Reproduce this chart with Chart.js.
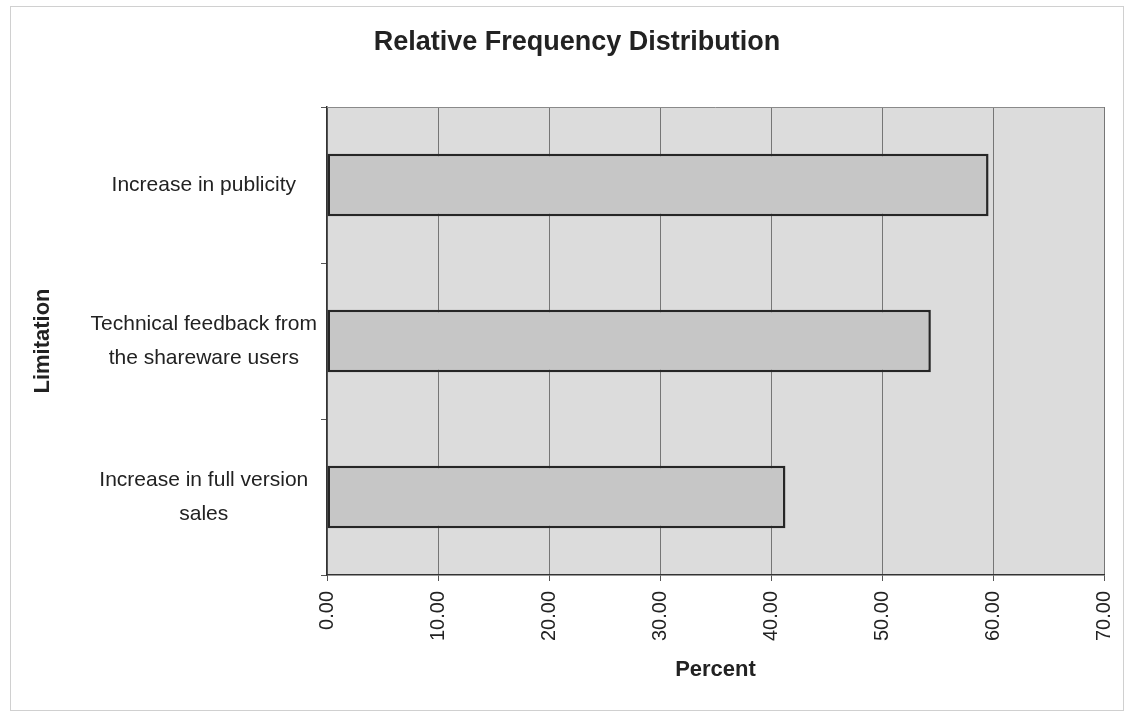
<!DOCTYPE html>
<html>
<head>
<meta charset="utf-8">
<script src="https://cdn.jsdelivr.net/npm/chart.js@4/dist/chart.umd.min.js"></script>
<style>
  html, body { margin: 0; padding: 0; background: #fff; }
  #wrap { width: 1135px; height: 717px; position: relative; }
</style>
</head>
<body>
<div id="wrap"><canvas id="c" width="1135" height="717"></canvas></div>
<script>
const categories = [
  "Increase in publicity",
  ["Technical feedback from", "the shareware users"],
  ["Increase in full version", "sales"]
];
const percentValues = [59.6, 54.4, 41.3];
const xTickMin = 0;
const xTickMax = 70;
const xTickStep = 10;

const FONT = "'Liberation Sans', Arial, Helvetica, sans-serif";
const TEXT = '#222';

const framePlugin = {
  id: 'frame',
  beforeDraw(chart) {
    const ctx = chart.ctx;
    const a = chart.chartArea;
    ctx.save();
    ctx.fillStyle = '#fff';
    ctx.fillRect(0, 0, chart.width, chart.height);
    ctx.strokeStyle = '#d0d0d0';
    ctx.lineWidth = 1;
    ctx.strokeRect(10.5, 6.5, 1113, 704);
    ctx.fillStyle = '#dcdcdc';
    ctx.fillRect(a.left, a.top, a.right - a.left, a.bottom - a.top);
    ctx.restore();
  },
  afterDatasetsDraw(chart) {
    const ctx = chart.ctx;
    const a = chart.chartArea;
    ctx.save();
    ctx.strokeStyle = '#8a8a8a';
    ctx.lineWidth = 1;
    ctx.beginPath();
    ctx.moveTo(a.left, a.top + 0.5);
    ctx.lineTo(a.right, a.top + 0.5);
    ctx.stroke();
    ctx.restore();
  }
};

new Chart(document.getElementById('c'), {
  type: 'bar',
  data: {
    labels: categories,
    datasets: [{
      data: percentValues,
      backgroundColor: '#c6c6c6',
      borderColor: '#262626',
      borderWidth: 2.5,
      borderSkipped: false,
      barPercentage: 0.4,
      categoryPercentage: 1.0
    }]
  },
  options: {
    indexAxis: 'y',
    responsive: false,
    animation: false,
    devicePixelRatio: 1,
    layout: { padding: { left: 50, right: 31, top: 26, bottom: 34 } },
    plugins: {
      legend: { display: false },
      tooltip: { enabled: false },
      title: {
        display: true,
        text: 'Relative Frequency Distribution',
        color: TEXT,
        font: { family: FONT, size: 27, weight: 'bold', lineHeight: 1.2 },
        padding: { top: 0, bottom: 48.6 }
      }
    },
    scales: {
      x: {
        type: 'linear',
        min: xTickMin,
        max: xTickMax,
        afterFit(scale) { scale.height = 108; scale.paddingRight = 0; },
        ticks: {
          stepSize: xTickStep,
          minRotation: 90,
          maxRotation: 90,
          padding: 10,
          color: TEXT,
          font: { family: FONT, size: 20 },
          callback: (v) => Number(v).toFixed(2)
        },
        grid: {
          color: '#767676',
          lineWidth: 1,
          tickLength: 6,
          tickColor: '#555'
        },
        border: { display: true, color: '#333', width: 1.5 },
        title: {
          display: true,
          text: 'Percent',
          color: TEXT,
          font: { family: FONT, size: 22, weight: 'bold', lineHeight: 1.2 },
          padding: { top: 0, bottom: 0 }
        }
      },
      y: {
        type: 'category',
        offset: true,
        afterFit(scale) { scale.width = 277; },
        ticks: {
          crossAlign: 'center',
          padding: 4,
          color: TEXT,
          font: { family: FONT, size: 21, lineHeight: 1.6 }
        },
        grid: {
          display: true,
          offset: true,
          drawOnChartArea: false,
          tickLength: 6,
          color: '#555'
        },
        border: { display: true, color: '#333', width: 1.5 },
        title: {
          display: true,
          text: 'Limitation',
          color: TEXT,
          font: { family: FONT, size: 22, weight: 'bold', lineHeight: 1.2 },
          padding: { top: -20, bottom: 0 }
        }
      }
    }
  },
  plugins: [framePlugin]
});
</script>
</body>
</html>
